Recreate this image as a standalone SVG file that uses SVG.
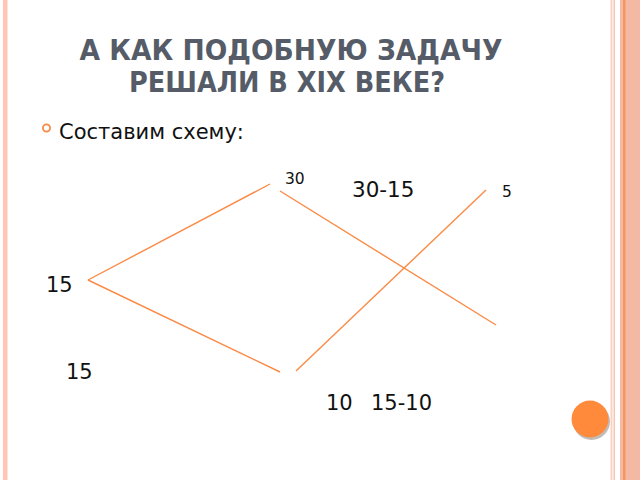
<svg xmlns="http://www.w3.org/2000/svg" width="640" height="480" viewBox="0 0 640 480">
<style>
.t{font-family:"DejaVu Sans","Noto Sans",sans-serif;fill:#111}
.h{font-family:"DejaVu Sans","Noto Sans",sans-serif;font-weight:bold;fill:#555c68}
.c line{stroke:#fb8a45;stroke-width:1.4}
</style>
<rect width="640" height="480" fill="#fff"/>
<rect x="3" y="0" width="4.5" height="480" fill="#ffc7b3"/>
<rect x="610.5" y="0" width="2" height="480" fill="#fad2c3"/>
<rect x="613.5" y="0" width="1.5" height="480" fill="#f7c4b0"/>
<rect x="620" y="0" width="20" height="480" fill="#f3b9a4"/>
<rect x="623" y="0" width="2.5" height="480" fill="#f6965f"/>
<g id="title">
<text class="h" x="291" y="60" font-size="28" text-anchor="middle" textLength="423" lengthAdjust="spacingAndGlyphs">А КАК ПОДОБНУЮ ЗАДАЧУ</text>
<text class="h" x="287" y="92" font-size="28" text-anchor="middle" textLength="316" lengthAdjust="spacingAndGlyphs">РЕШАЛИ В XIX ВЕКЕ?</text>
</g>
<g id="bullet">
<circle cx="46.5" cy="128" r="3.6" fill="none" stroke="#fb8a45" stroke-width="1.8"/>
<text class="t" x="59" y="139" font-size="21">Составим схему:</text>
</g>
<g class="c" id="connectors">
<line x1="88" y1="280" x2="270" y2="184"/>
<line x1="88" y1="280" x2="280" y2="372"/>
<line x1="280" y1="191" x2="496" y2="325"/>
<line x1="296" y1="371" x2="486" y2="190"/>
</g>
<g id="labels">
<text class="t" x="285" y="184" font-size="15.5">30</text>
<text class="t" x="352" y="197" font-size="21.5">30-15</text>
<text class="t" x="502" y="197" font-size="15.5">5</text>
<text class="t" x="46" y="292" font-size="21">15</text>
<text class="t" x="66" y="379" font-size="21">15</text>
<text class="t" x="326" y="410" font-size="21">10</text>
<text class="t" x="371" y="410" font-size="21">15-10</text>
</g>
<g id="button">
<circle cx="591.5" cy="421.5" r="18.5" fill="#9a8e88" opacity="0.6"/>
<circle cx="590" cy="419" r="18.5" fill="#ff8a3b"/>
</g>
</svg>
